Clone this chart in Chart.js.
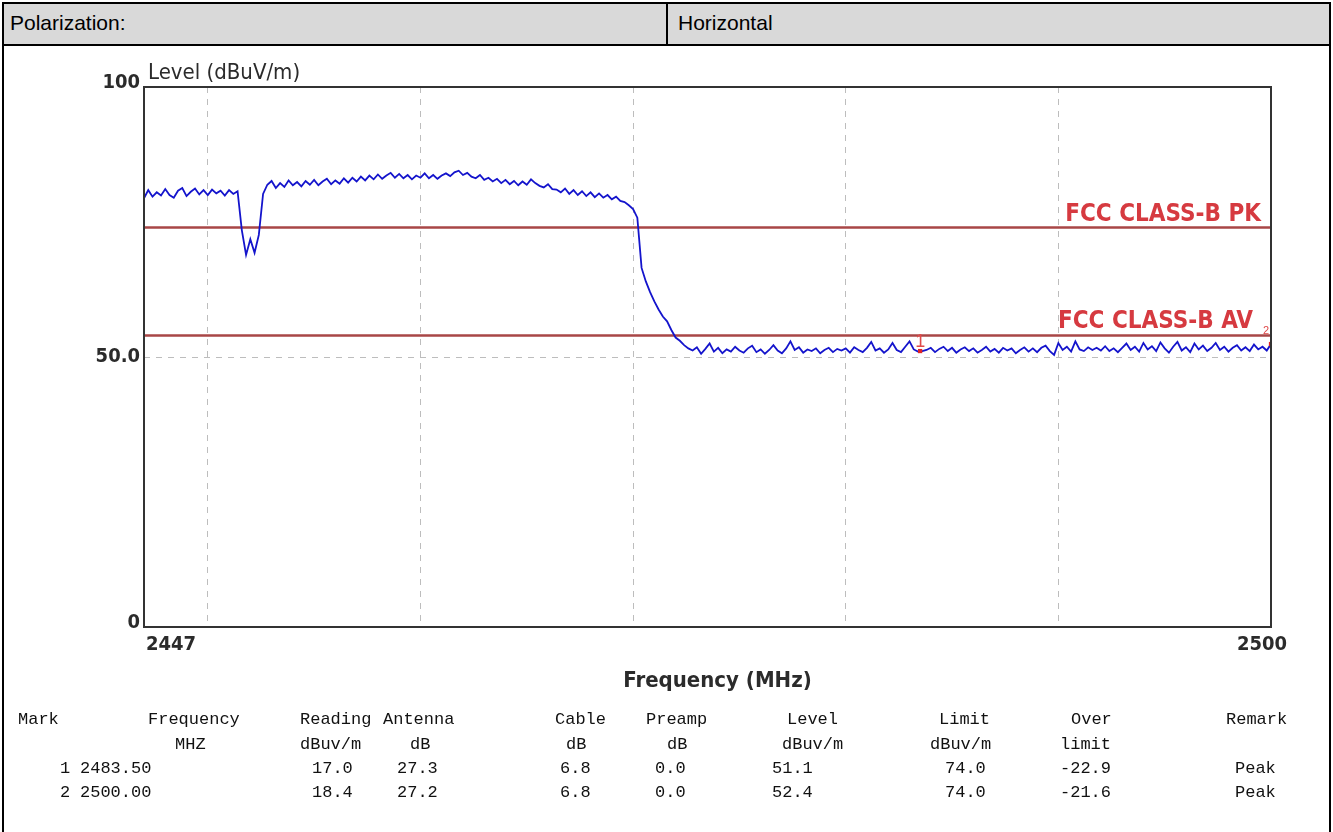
<!DOCTYPE html>
<html>
<head>
<meta charset="utf-8">
<script src="https://cdn.jsdelivr.net/npm/chart.js@4.4.1/dist/chart.umd.min.js"></script>
<style>
  html, body { margin: 0; padding: 0; background: #ffffff; }
  #page { position: relative; width: 1333px; height: 832px; overflow: hidden; background: #fff; }
  #chart { position: absolute; left: 0; top: 0; }
  #frame { position: absolute; left: 2px; top: 2px; width: 1329px; height: 860px; border: 2px solid #000; box-sizing: border-box; pointer-events: none; }
  #hdr { position: absolute; left: 2px; top: 2px; width: 1329px; height: 44px; background: #d9d9d9; border: 2px solid #000; box-sizing: border-box; }
  #hdrDiv { position: absolute; left: 666px; top: 2px; width: 2px; height: 44px; background: #000; }
  .hcell { position: absolute; top: 11px; font-family: "Liberation Sans", Arial, sans-serif; font-size: 21px; color: #000; }
  .tcell { position: absolute; font-family: "Liberation Mono", "Courier New", monospace; font-size: 17px; color: #111; white-space: pre; line-height: 20px; }
</style>
</head>
<body>
<div id="page">
  <canvas id="chart" width="1333" height="832"></canvas>
  <div id="hdr"></div>
  <div id="hdrDiv"></div>
  <div id="frame"></div>
  <div class="hcell" id="hLeft" style="left:10px;"></div>
  <div class="hcell" id="hRight" style="left:678px;"></div>
  <div id="table"></div>
</div>
<script>
// ---------------- data ----------------
const headerLeft = "Polarization:";
const headerRight = "Horizontal";

const freqStart = 2447;
const freqStop = 2500;

const freqMHz = [
  2447.0, 2447.2, 2447.4, 2447.6, 2447.8, 2448.0, 2448.2, 2448.4, 2448.6, 2448.8,
  2449.0, 2449.2, 2449.4, 2449.6, 2449.8, 2450.0, 2450.2, 2450.4, 2450.6, 2450.8,
  2451.0, 2451.2, 2451.4, 2451.6, 2451.8, 2452.0, 2452.2, 2452.4, 2452.6, 2452.8,
  2453.0, 2453.2, 2453.4, 2453.6, 2453.8, 2454.0, 2454.2, 2454.4, 2454.6, 2454.8,
  2455.0, 2455.2, 2455.4, 2455.6, 2455.8, 2456.0, 2456.2, 2456.4, 2456.6, 2456.8,
  2457.0, 2457.2, 2457.4, 2457.6, 2457.8, 2458.0, 2458.2, 2458.4, 2458.6, 2458.8,
  2459.0, 2459.2, 2459.4, 2459.6, 2459.8, 2460.0, 2460.2, 2460.4, 2460.6, 2460.8,
  2461.0, 2461.2, 2461.4, 2461.6, 2461.8, 2462.0, 2462.2, 2462.4, 2462.6, 2462.8,
  2463.0, 2463.2, 2463.4, 2463.6, 2463.8, 2464.0, 2464.2, 2464.4, 2464.6, 2464.8,
  2465.0, 2465.2, 2465.4, 2465.6, 2465.8, 2466.0, 2466.2, 2466.4, 2466.6, 2466.8,
  2467.0, 2467.2, 2467.4, 2467.6, 2467.8, 2468.0, 2468.2, 2468.4, 2468.6, 2468.8,
  2469.0, 2469.2, 2469.4, 2469.6, 2469.8, 2470.0, 2470.2, 2470.4, 2470.6, 2470.8,
  2471.0, 2471.2, 2471.4, 2471.6, 2471.8, 2472.0, 2472.2, 2472.4, 2472.6, 2472.8,
  2473.0, 2473.2, 2473.4, 2473.6, 2473.8, 2474.0, 2474.2, 2474.4, 2474.6, 2474.8,
  2475.0, 2475.2, 2475.4, 2475.6, 2475.8, 2476.0, 2476.2, 2476.4, 2476.6, 2476.8,
  2477.0, 2477.2, 2477.4, 2477.6, 2477.8, 2478.0, 2478.2, 2478.4, 2478.6, 2478.8,
  2479.0, 2479.2, 2479.4, 2479.6, 2479.8, 2480.0, 2480.2, 2480.4, 2480.6, 2480.8,
  2481.0, 2481.2, 2481.4, 2481.6, 2481.8, 2482.0, 2482.2, 2482.4, 2482.6, 2482.8,
  2483.0, 2483.2, 2483.4, 2483.6, 2483.8, 2484.0, 2484.2, 2484.4, 2484.6, 2484.8,
  2485.0, 2485.2, 2485.4, 2485.6, 2485.8, 2486.0, 2486.2, 2486.4, 2486.6, 2486.8,
  2487.0, 2487.2, 2487.4, 2487.6, 2487.8, 2488.0, 2488.2, 2488.4, 2488.6, 2488.8,
  2489.0, 2489.2, 2489.4, 2489.6, 2489.8, 2490.0, 2490.2, 2490.4, 2490.6, 2490.8,
  2491.0, 2491.2, 2491.4, 2491.6, 2491.8, 2492.0, 2492.2, 2492.4, 2492.6, 2492.8,
  2493.0, 2493.2, 2493.4, 2493.6, 2493.8, 2494.0, 2494.2, 2494.4, 2494.6, 2494.8,
  2495.0, 2495.2, 2495.4, 2495.6, 2495.8, 2496.0, 2496.2, 2496.4, 2496.6, 2496.8,
  2497.0, 2497.2, 2497.4, 2497.6, 2497.8, 2498.0, 2498.2, 2498.4, 2498.6, 2498.8,
  2499.0, 2499.2, 2499.4, 2499.6, 2499.8, 2500.0
];

const levelDbuvm = [
  79.4, 80.9, 79.7, 80.5, 79.9, 81.1, 80.0, 79.5, 80.8, 81.3,
  79.8, 80.6, 81.2, 80.1, 80.9, 80.0, 81.0, 80.3, 80.8, 79.9,
  80.9, 80.2, 80.7, 73.5, 68.9, 71.8, 69.3, 72.6, 80.2, 81.9,
  82.6, 81.3, 82.2, 81.5, 82.7, 81.8, 82.4, 81.6, 82.6, 81.9,
  82.8, 81.8, 82.5, 83.0, 82.0, 82.7, 82.1, 83.1, 82.3, 83.2,
  82.5, 83.4, 82.7, 83.6, 82.9, 83.8, 83.0, 83.6, 84.1, 83.2,
  83.9, 83.1, 83.7, 82.9, 83.6, 83.2, 84.0, 83.1, 83.7, 83.0,
  83.6, 84.0, 83.5, 84.2, 84.5, 83.7, 84.1, 83.4, 83.1, 83.7,
  82.8, 83.2, 82.5, 83.0, 82.2, 82.8, 82.0, 82.6, 81.8, 82.5,
  81.9, 82.9, 82.2, 81.7, 81.4, 82.0, 81.1, 81.0, 80.5, 81.2,
  80.2, 80.9, 80.0, 80.7, 79.8, 80.5, 79.6, 80.3, 79.5, 80.0,
  79.2, 79.7, 78.9, 78.7, 78.1, 77.4, 75.8, 66.5, 64.0, 62.0,
  60.3, 58.8, 57.5, 56.6, 55.0, 53.6, 53.0, 52.2, 51.6, 51.2,
  51.8, 50.6, 51.5, 52.5, 51.0, 51.7, 50.7, 51.4, 51.0, 51.9,
  51.2, 50.8, 51.6, 52.1, 50.9, 51.4, 50.6, 51.3, 52.2, 51.2,
  50.7, 51.6, 52.9, 51.3, 51.8, 50.8, 51.4, 51.1, 51.6, 50.7,
  51.3, 51.7, 50.9, 51.5, 51.2, 51.6, 50.8, 51.8, 51.3, 50.9,
  51.7, 52.8, 51.2, 51.6, 50.8, 51.4, 52.6, 51.3, 50.9, 51.9,
  52.9, 51.4, 51.0, 51.1, 51.3, 51.7, 50.9, 51.5, 51.9, 51.1,
  51.7, 50.8, 51.4, 51.8, 51.1, 51.6, 50.8, 51.3, 51.9, 51.0,
  51.5, 50.8, 51.7, 51.2, 51.6, 50.7, 51.3, 51.8, 51.0, 51.6,
  50.9, 51.7, 52.1, 51.1, 50.4, 52.6, 51.3, 51.9, 51.0, 52.9,
  51.4, 51.1, 51.8, 51.3, 51.7, 51.2, 52.0, 51.1, 51.6, 50.9,
  51.7, 52.5, 51.3, 51.9, 51.0, 52.6, 51.4, 52.0, 51.1, 52.7,
  51.6, 50.8, 51.9, 52.8, 51.2, 51.8, 50.9, 52.5, 51.4, 52.1,
  51.1, 51.7, 52.6, 51.3, 51.9, 51.0, 51.7, 52.2, 51.2, 51.8,
  51.1, 52.3, 51.4, 51.9, 51.2, 52.4
];

const limitPk = 74.0;
const limitAv = 54.0;
const limitPkLabel = "FCC CLASS-B PK";
const limitAvLabel = "FCC CLASS-B AV";

const markerNo = ["1", "2"];
const markerFreq = [2483.5, 2500.0];
const markerLevel = [51.1, 52.4];

const yTickValues = [0, 50, 100];
const yTickLabels = ["0", "50.0", "100"];
const xTickValues = [2447, 2500];
const xTickLabels = ["2447", "2500"];
const xGridValues = [2450, 2460, 2470, 2480, 2490];
const yGridValues = [50];

const yTitle = "Level (dBuV/m)";
const xTitle = "Frequency (MHz)";

const tableHead1 = ["Mark", "Frequency", "Reading", "Antenna", "Cable", "Preamp", "Level", "Limit", "Over", "Remark"];
const tableHead2 = ["", "MHZ", "dBuv/m", "dB", "dB", "dB", "dBuv/m", "dBuv/m", "limit", ""];
const tableRow1 = ["1", "2483.50", "17.0", "27.3", "6.8", "0.0", "51.1", "74.0", "-22.9", "Peak"];
const tableRow2 = ["2", "2500.00", "18.4", "27.2", "6.8", "0.0", "52.4", "74.0", "-21.6", "Peak"];

// ---------------- layout (positions only) ----------------
const head1X = [18, 148, 300, 383, 555, 646, 787, 939, 1071, 1226];
const head2X = [0, 175, 300, 410, 566, 667, 782, 930, 1060, 0];
const rowX   = [60, 80, 312, 397, 560, 655, 772, 945, 1060, 1235];
const rowY   = [710, 735, 759, 783];

document.getElementById('hLeft').textContent = headerLeft;
document.getElementById('hRight').textContent = headerRight;

const tableEl = document.getElementById('table');
function addRow(cells, xs, y) {
  cells.forEach((t, i) => {
    if (!t) return;
    const d = document.createElement('div');
    d.className = 'tcell';
    d.style.left = xs[i] + 'px';
    d.style.top = y + 'px';
    d.textContent = t;
    tableEl.appendChild(d);
  });
}
addRow(tableHead1, head1X, rowY[0]);
addRow(tableHead2, head2X, rowY[1]);
addRow(tableRow1, rowX, rowY[2]);
addRow(tableRow2, rowX, rowY[3]);

// ---------------- chart ----------------
const NARROW = '"Liberation Sans Narrow", "DejaVu Sans Condensed", "Liberation Sans", sans-serif';

const decorPlugin = {
  id: 'decor',
  afterDraw(chart) {
    const ctx = chart.ctx;
    const a = chart.chartArea;
    const xs = chart.scales.x, ys = chart.scales.y;
    ctx.save();
    // plot frame
    ctx.strokeStyle = '#333333';
    ctx.lineWidth = 2;
    ctx.setLineDash([]);
    ctx.strokeRect(a.left, a.top, a.right - a.left, a.bottom - a.top);

    // y tick labels
    ctx.fillStyle = '#2b2b2b';
    ctx.font = 'bold 20px ' + NARROW;
    ctx.textAlign = 'right';
    ctx.textBaseline = 'middle';
    yTickValues.forEach((v, i) => {
      const py = ys.getPixelForValue(v) - (v === 50 ? 0 : 4);
      ctx.fillText(yTickLabels[i], a.left - 4, py);
    });
    // x tick labels
    ctx.textBaseline = 'top';
    xTickValues.forEach((v, i) => {
      const px = xs.getPixelForValue(v);
      ctx.textAlign = i === 0 ? 'left' : 'right';
      ctx.fillText(xTickLabels[i], i === 0 ? px + 2 : px + 16, a.bottom + 8);
    });
    // axis titles
    ctx.font = '22px ' + NARROW;
    ctx.textAlign = 'left';
    ctx.textBaseline = 'alphabetic';
    ctx.fillText(yTitle, a.left + 4, a.top - 8);
    ctx.font = 'bold 22px ' + NARROW;
    ctx.textAlign = 'center';
    ctx.fillText(xTitle, (a.left + a.right) / 2 + 10, a.bottom + 60);

    // limit labels
    ctx.fillStyle = '#d63a40';
    ctx.font = 'bold 24px ' + NARROW;
    ctx.textAlign = 'right';
    ctx.fillText(limitPkLabel, a.right - 10, ys.getPixelForValue(limitPk) - 6);
    ctx.fillText(limitAvLabel, a.right - 18, ys.getPixelForValue(limitAv) - 7);

    // marker labels
    ctx.fillStyle = '#e04a4a';
    ctx.textAlign = 'center';
    markerNo.forEach((m, i) => {
      const px = xs.getPixelForValue(markerFreq[i]);
      const py = ys.getPixelForValue(markerLevel[i]);
      if (i === markerNo.length - 1) {
        ctx.font = '11px "Liberation Sans", sans-serif';
        ctx.fillText(m, px - 5, py - 10);
      } else {
        ctx.font = '18px "Liberation Sans", sans-serif';
        ctx.fillText(m, px, py - 4);
      }
    });
    ctx.restore();
  }
};

new Chart(document.getElementById('chart'), {
  type: 'line',
  data: {
    datasets: [
      {
        label: 'Markers',
        type: 'scatter',
        data: markerFreq.map((f, i) => ({ x: f, y: markerLevel[i] })),
        pointStyle: 'rect',
        pointRadius: 3,
        backgroundColor: '#e02424',
        borderColor: '#e02424',
        borderWidth: 0,
        order: 0
      },
      {
        label: 'Level',
        data: freqMHz.map((f, i) => ({ x: f, y: levelDbuvm[i] })),
        borderColor: '#1414cc',
        borderWidth: 1.8,
        pointRadius: 0,
        tension: 0,
        order: 1
      },
      {
        label: limitPkLabel,
        data: [{ x: freqStart, y: limitPk }, { x: freqStop, y: limitPk }],
        borderColor: '#a84646',
        borderWidth: 2.5,
        pointRadius: 0,
        order: 2
      },
      {
        label: limitAvLabel,
        data: [{ x: freqStart, y: limitAv }, { x: freqStop, y: limitAv }],
        borderColor: '#a84646',
        borderWidth: 2.5,
        pointRadius: 0,
        order: 2
      }
    ]
  },
  options: {
    responsive: false,
    animation: false,
    events: [],
    layout: { padding: { left: 144, top: 87, right: 62, bottom: 205 } },
    plugins: { legend: { display: false }, tooltip: { enabled: false } },
    scales: {
      x: {
        type: 'linear',
        min: freqStart,
        max: freqStop,
        afterBuildTicks: (s) => { s.ticks = [freqStart, ...xGridValues, freqStop].map(v => ({ value: v })); },
        ticks: { display: false },
        grid: {
          drawTicks: false,
          lineWidth: 1,
          color: (c) => (c.tick && xGridValues.includes(c.tick.value)) ? '#bdbdbd' : 'rgba(0,0,0,0)'
        },
        border: { display: false, dash: [6, 6] }
      },
      y: {
        type: 'linear',
        min: 0,
        max: 100,
        afterBuildTicks: (s) => { s.ticks = yTickValues.map(v => ({ value: v })); },
        ticks: { display: false },
        grid: {
          drawTicks: false,
          lineWidth: 1,
          color: (c) => (c.tick && yGridValues.includes(c.tick.value)) ? '#bdbdbd' : 'rgba(0,0,0,0)'
        },
        border: { display: false, dash: [6, 6] }
      }
    }
  },
  plugins: [decorPlugin]
});
</script>
</body>
</html>
